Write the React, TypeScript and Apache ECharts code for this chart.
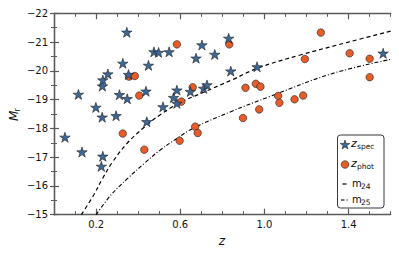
import React, { useEffect, useRef } from "react";
import * as echarts from "echarts";

// ---- data ----
const zSpec: [number, number][] = [
  [0.052, -17.69], [0.116, -19.18], [0.133, -17.18], [0.199, -18.73], [0.225, -16.68],
  [0.229, -18.39], [0.230, -19.47], [0.232, -19.68], [0.232, -17.03], [0.256, -19.89],
  [0.295, -18.44], [0.311, -19.17], [0.327, -20.26], [0.346, -21.34], [0.348, -19.03],
  [0.354, -19.87], [0.437, -19.29], [0.441, -18.23], [0.449, -20.19], [0.475, -20.66],
  [0.497, -20.64], [0.518, -18.75], [0.547, -20.66], [0.568, -19.07], [0.584, -19.33],
  [0.584, -18.87], [0.648, -19.28], [0.675, -20.44], [0.703, -20.90], [0.711, -19.39],
  [0.727, -19.51], [0.764, -20.57], [0.830, -21.13], [0.840, -19.99], [0.965, -20.14],
  [1.564, -20.61],
];

const zPhot: [number, number][] = [
  [0.327, -17.82], [0.356, -19.80], [0.384, -19.82], [0.405, -19.14], [0.429, -17.26],
  [0.584, -20.92], [0.597, -17.57], [0.605, -18.93], [0.659, -19.43], [0.671, -18.06],
  [0.683, -17.84], [0.833, -20.92], [0.898, -18.36], [0.910, -19.41], [0.959, -19.55],
  [0.975, -18.66], [0.981, -19.45], [1.065, -19.13], [1.071, -18.89], [1.143, -19.01],
  [1.184, -19.14], [1.192, -20.41], [1.268, -21.33], [1.405, -20.61], [1.500, -20.42],
  [1.500, -19.78],
];

const m24: [number, number][] = [
  [0.13, -15.0], [0.19, -15.7], [0.23, -16.25], [0.28, -16.85], [0.35, -17.5],
  [0.43, -18.05], [0.5, -18.45], [0.6, -18.9], [0.7, -19.22], [0.85, -19.7],
  [0.97, -20.1], [1.17, -20.55], [1.4, -21.0], [1.6, -21.38],
];

const m25: [number, number][] = [
  [0.2, -15.0], [0.27, -15.68], [0.35, -16.26], [0.43, -16.79], [0.5, -17.22],
  [0.58, -17.63], [0.66, -18.0], [0.84, -18.58], [1.03, -19.12], [1.32, -19.9],
  [1.6, -20.4],
];

const xMajorTicks = [0.2, 0.6, 1.0, 1.4];
const xRange = [0, 1.6];
const yRange = [-22, -15];

const STAR = "path://M0,-10L2.245,-3.09L9.511,-3.09L3.633,1.18L5.878,8.09L0,3.82L-5.878,8.09L-3.633,1.18L-9.511,-3.09L-2.245,-3.09Z";
const STAR_FILL = "#3e6896";
const PHOT_FILL = "#e65d2a";
const EDGE = "#1e1e1e";
const AXIS = "#5a5a5a";
const FONT = "DejaVu Sans";

function starPoints(cx: number, cy: number, R: number) {
  const pts: number[][] = [];
  const r = R * 0.382;
  for (let i = 0; i < 10; i++) {
    const a = -Math.PI / 2 + (i * Math.PI) / 5;
    const rr = i % 2 === 0 ? R : r;
    pts.push([cx + rr * Math.cos(a), cy + rr * Math.sin(a)]);
  }
  return pts;
}

const fmtY = (v: number) => (v < 0 ? "\u2212" : "") + Math.abs(v);

export default function App() {
  const ref = useRef<HTMLDivElement>(null);
  useEffect(() => {
    document.body.style.margin = "0";
    const chart = echarts.init(ref.current!, null, { renderer: "svg" });
    const line = { show: true, lineStyle: { color: AXIS, width: 1.3 } };
    const baseX = { type: "value", min: xRange[0], max: xRange[1], splitLine: { show: false } };
    const baseY = { type: "value", min: yRange[0], max: yRange[1], inverse: true, splitLine: { show: false } };
    const option: any = {
      animation: false,
      grid: { left: 54, right: 8.3, top: 13.3, bottom: 41.3, containLabel: false },
      xAxis: [
        {
          ...baseX, position: "bottom", axisLine: line,
          axisTick: { inside: true, length: 6, customValues: xMajorTicks, lineStyle: { color: AXIS, width: 1.2 } },
          axisLabel: { customValues: xMajorTicks, formatter: (v: number) => v.toFixed(1), color: "#111", fontFamily: FONT, fontSize: 10, margin: 5 },
        },
        {
          ...baseX, position: "bottom", interval: 0.1, axisLine: { show: false },
          axisTick: { inside: true, length: 3.5, lineStyle: { color: AXIS, width: 1 } },
          axisLabel: { show: false },
        },
        {
          ...baseX, position: "top", axisLine: line,
          axisTick: { inside: true, length: 6, customValues: xMajorTicks, lineStyle: { color: AXIS, width: 1.2 } },
          axisLabel: { show: false },
        },
        {
          ...baseX, position: "top", interval: 0.1, axisLine: { show: false },
          axisTick: { inside: true, length: 3.5, lineStyle: { color: AXIS, width: 1 } },
          axisLabel: { show: false },
        },
      ],
      yAxis: [
        {
          ...baseY, position: "left", interval: 1, axisLine: line,
          axisTick: { inside: true, length: 5, lineStyle: { color: AXIS, width: 1.2 } },
          axisLabel: { formatter: fmtY, color: "#111", fontFamily: FONT, fontSize: 10, margin: 6 },
        },
        {
          ...baseY, position: "left", interval: 0.5, axisLine: { show: false },
          axisTick: { inside: true, length: 3, lineStyle: { color: AXIS, width: 1 } },
          axisLabel: { show: false },
        },
        {
          ...baseY, position: "right", interval: 1, axisLine: line,
          axisTick: { inside: true, length: 4, lineStyle: { color: AXIS, width: 1.2 } },
          axisLabel: { show: false },
        },
        {
          ...baseY, position: "right", interval: 0.5, axisLine: { show: false },
          axisTick: { inside: true, length: 3, lineStyle: { color: AXIS, width: 1 } },
          axisLabel: { show: false },
        },
      ],
      series: [
        {
          name: "m24", type: "line", data: m24, smooth: 0.4, showSymbol: false, symbol: "none",
          lineStyle: { color: "#000", width: 1.2, type: [4, 3] }, z: 1,
        },
        {
          name: "m25", type: "line", data: m25, smooth: 0.4, showSymbol: false, symbol: "none",
          lineStyle: { color: "#000", width: 1.1, type: [4, 2, 1, 2] }, z: 1,
        },
        {
          name: "zphot", type: "scatter", data: zPhot, symbol: "circle", symbolSize: 7.5,
          itemStyle: { color: PHOT_FILL, borderColor: EDGE, borderWidth: 0.6, opacity: 1 }, z: 3,
        },
        {
          name: "zspec", type: "scatter", data: zSpec, symbol: STAR, symbolSize: 10.5, symbolKeepAspect: true,
          itemStyle: { color: STAR_FILL, borderColor: EDGE, borderWidth: 0.6, opacity: 1 }, z: 4,
        },
      ],
      graphic: [
        // axis titles
        {
          type: "group", x: 20, y: 121, rotation: Math.PI / 2,
          children: [
            { type: "text", x: 0, y: 0, style: { text: "M", fontFamily: FONT, fontStyle: "italic", fontSize: 12, fill: "#111", align: "left", verticalAlign: "bottom" } },
            { type: "text", x: 9.5, y: 1.5, style: { text: "r", fontFamily: FONT, fontSize: 8, fill: "#111", align: "left", verticalAlign: "bottom" } },
          ],
        },
        { type: "text", x: 222, y: 241, style: { text: "z", fontFamily: FONT, fontStyle: "italic", fontSize: 12, fill: "#111", align: "center", verticalAlign: "middle" } },
        // legend
        {
          type: "rect", shape: { x: 337.5, y: 135, width: 46.5, height: 73, r: 3 },
          style: { fill: "rgba(255,255,255,0.85)", stroke: "#222", lineWidth: 0.9 }, z: 10,
        },
        { type: "polygon", shape: { points: starPoints(345, 145, 5) }, style: { fill: STAR_FILL, stroke: EDGE, lineWidth: 0.6 }, z: 11 },
        { type: "circle", shape: { cx: 345, cy: 164.5, r: 3.8 }, style: { fill: PHOT_FILL, stroke: EDGE, lineWidth: 0.6 }, z: 11 },
        { type: "line", shape: { x1: 342.5, y1: 184, x2: 346.5, y2: 184 }, style: { stroke: "#000", lineWidth: 1.2 }, z: 11 },
        { type: "line", shape: { x1: 341, y1: 200, x2: 344.5, y2: 200 }, style: { stroke: "#000", lineWidth: 1.1 }, z: 11 },
        { type: "circle", shape: { cx: 347, cy: 200, r: 0.6 }, style: { fill: "#000" }, z: 11 },
        { type: "text", x: 351, y: 149, style: { text: "z", fontFamily: FONT, fontStyle: "italic", fontSize: 11, fill: "#111", align: "left", verticalAlign: "bottom" }, z: 11 },
        { type: "text", x: 357, y: 150.5, style: { text: "spec", fontFamily: FONT, fontSize: 7.5, fill: "#111", align: "left", verticalAlign: "bottom" }, z: 11 },
        { type: "text", x: 351, y: 168.5, style: { text: "z", fontFamily: FONT, fontStyle: "italic", fontSize: 11, fill: "#111", align: "left", verticalAlign: "bottom" }, z: 11 },
        { type: "text", x: 357, y: 170, style: { text: "phot", fontFamily: FONT, fontSize: 7.5, fill: "#111", align: "left", verticalAlign: "bottom" }, z: 11 },
        { type: "text", x: 352, y: 188.5, style: { text: "m", fontFamily: FONT, fontSize: 10, fill: "#111", align: "left", verticalAlign: "bottom" }, z: 11 },
        { type: "text", x: 361, y: 190.5, style: { text: "24", fontFamily: FONT, fontSize: 7.5, fill: "#111", align: "left", verticalAlign: "bottom" }, z: 11 },
        { type: "text", x: 352, y: 204, style: { text: "m", fontFamily: FONT, fontSize: 10, fill: "#111", align: "left", verticalAlign: "bottom" }, z: 11 },
        { type: "text", x: 361, y: 206, style: { text: "25", fontFamily: FONT, fontSize: 7.5, fill: "#111", align: "left", verticalAlign: "bottom" }, z: 11 },
      ],
    };
    chart.setOption(option);
    return () => chart.dispose();
  }, []);
  return <div ref={ref} style={{ width: 399, height: 256 }} />;
}
